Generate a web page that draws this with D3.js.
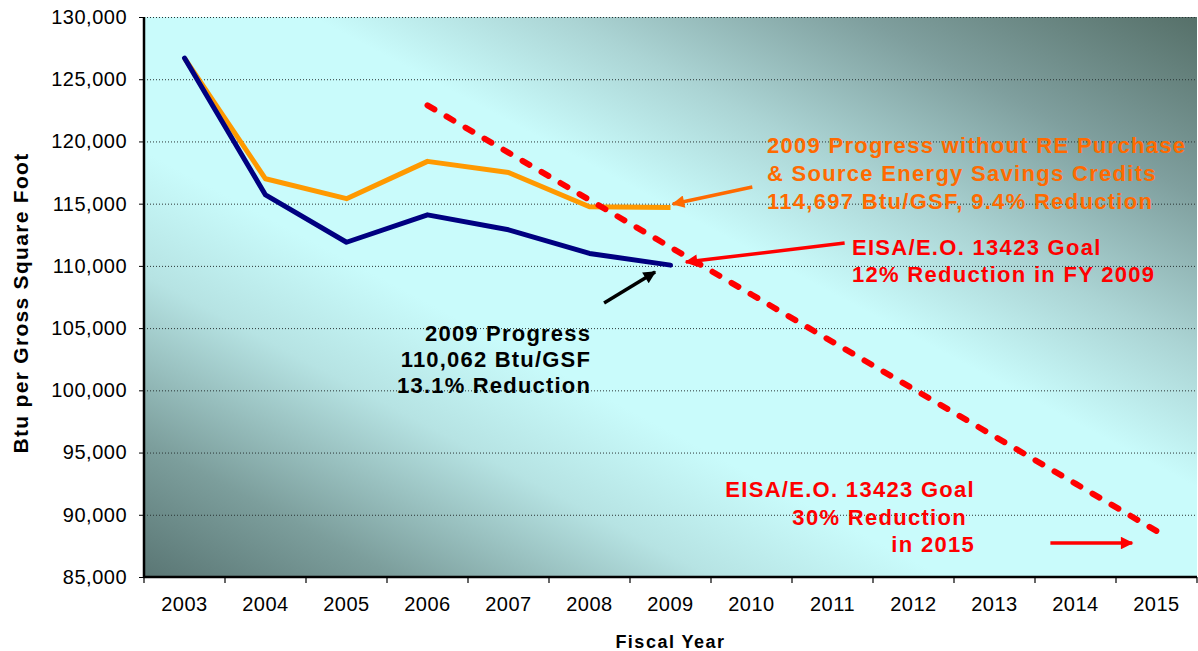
<!DOCTYPE html>
<html>
<head>
<meta charset="utf-8">
<script src="https://cdn.jsdelivr.net/npm/d3@7"></script>
<style>
  html, body { margin: 0; padding: 0; background: #ffffff; }
  svg { display: block; font-family: "Liberation Sans", Arial, sans-serif; }
</style>
</head>
<body>
<svg id="chart" width="1198" height="651"></svg>
<script>
// ---- data ----
const years = ["2003","2004","2005","2006","2007","2008","2009","2010","2011","2012","2013","2014","2015"];
const progressYears = ["2003","2004","2005","2006","2007","2008","2009"];
const progressValues = [126700, 115700, 111900, 114100, 112900, 111000, 110062];
const withoutREValues = [126700, 117000, 115400, 118400, 117500, 114750, 114697];
const goalYears = ["2006","2007","2008","2009","2010","2011","2012","2013","2014","2015"];
const goalValues = [122900, 119100, 115300, 111500, 107700, 103900, 100100, 96300, 92500, 88700];
const yTicks = [85000, 90000, 95000, 100000, 105000, 110000, 115000, 120000, 125000, 130000];
const yTitle = "Btu per Gross Square Foot";
const xTitle = "Fiscal Year";

// annotation texts (anchored in data coordinates)
const noteOrange = ["2009 Progress without RE Purchase", "& Source Energy Savings Credits", "114,697 Btu/GSF, 9.4% Reduction"];
const noteGoal2009 = ["EISA/E.O. 13423 Goal", "12% Reduction in FY 2009"];
const noteProgress = ["2009 Progress", "110,062 Btu/GSF", "13.1% Reduction"];
const noteGoal2015 = ["EISA/E.O. 13423 Goal", "30% Reduction", "in 2015"];

// ---- layout ----
const W = 1198, H = 651;
const margin = {top: 17, right: 1, bottom: 74, left: 144};
const width = W - margin.left - margin.right;
const height = H - margin.top - margin.bottom;

const svg = d3.select("#chart");
const g = svg.append("g").attr("transform", `translate(${margin.left},${margin.top})`);

const x = d3.scaleBand().domain(years).range([0, width]).padding(0);
const xc = d => x(d) + x.bandwidth() / 2;
// continuous year scale for annotation anchoring
const xl = d3.scaleLinear().domain([2002.5, 2015.5]).range([0, width]);
const y = d3.scaleLinear().domain([85000, 130000]).range([height, 0]);

// ---- background gradient ----
const defs = svg.append("defs");
const grad = defs.append("linearGradient").attr("id", "bg")
  .attr("x1", 0).attr("y1", 1).attr("x2", 1).attr("y2", 0);
[[0, "#5a7674"], [0.12, "#7c9e9c"], [0.27, "#b6e3e3"], [0.38, "#c9fbfb"],
 [0.58, "#c9fbfb"], [0.7, "#abd4d4"], [0.84, "#7f9f9e"], [1, "#567069"]]
  .forEach(([o, c]) => grad.append("stop").attr("offset", o).attr("stop-color", c));

const arrowColors = {aOrange: "#ff6a00", aRed: "#ff0000", aBlack: "#000000"};
Object.entries(arrowColors).forEach(([id, c]) => {
  defs.append("marker").attr("id", id)
    .attr("viewBox", "0 0 10 10").attr("refX", 9).attr("refY", 5)
    .attr("markerWidth", 4.2).attr("markerHeight", 3.6)
    .attr("markerUnits", "strokeWidth")
    .attr("orient", "auto")
    .append("path").attr("d", "M0,0 L10,5 L0,10 Z").attr("fill", c);
});

g.append("rect").attr("x", 0).attr("y", 0).attr("width", width).attr("height", height)
  .attr("fill", "url(#bg)");

// ---- gridlines ----
g.append("g").selectAll("line").data(yTicks.filter(v => v !== 85000)).join("line")
  .attr("x1", 0).attr("x2", width)
  .attr("y1", d => y(d) + 0.5).attr("y2", d => y(d) + 0.5)
  .attr("stroke", "#2a3535").attr("stroke-width", 1).attr("stroke-dasharray", "1,2");

// ---- axes ----
const yAxis = g.append("g")
  .call(d3.axisLeft(y).tickValues(yTicks).tickFormat(d3.format(",")).tickSize(5).tickPadding(12));
yAxis.select(".domain").remove();
yAxis.selectAll("line").attr("stroke", "#000");
yAxis.selectAll("text").attr("font-size", 20).attr("fill", "#000")
  .attr("letter-spacing", "0.5px").attr("font-family", "Liberation Sans, Arial, sans-serif");

const xAxis = g.append("g").attr("transform", `translate(0,${height})`)
  .call(d3.axisBottom(x).tickSize(0).tickPadding(20));
xAxis.select(".domain").remove();
xAxis.selectAll("text").attr("font-size", 20).attr("fill", "#000")
  .attr("letter-spacing", "0.5px").attr("font-family", "Liberation Sans, Arial, sans-serif");
// boundary ticks
const bounds = years.map(d => x(d)).concat([width]);
g.append("g").selectAll("line").data(bounds).join("line")
  .attr("x1", d => d).attr("x2", d => d)
  .attr("y1", height).attr("y2", height + 6)
  .attr("stroke", "#000").attr("stroke-width", 1.2);

// axis lines
g.append("line").attr("x1", 0).attr("x2", 0).attr("y1", 0).attr("y2", height)
  .attr("stroke", "#000").attr("stroke-width", 2.5);
g.append("line").attr("x1", -1).attr("x2", width).attr("y1", height).attr("y2", height)
  .attr("stroke", "#000").attr("stroke-width", 2.5);

// ---- series ----
const line = d3.line().x(d => xc(d[0])).y(d => y(d[1]));
g.append("path").datum(progressYears.map((d, i) => [d, withoutREValues[i]]))
  .attr("d", line).attr("fill", "none").attr("stroke", "#ff9900")
  .attr("stroke-width", 5).attr("stroke-linejoin", "round");
g.append("path").datum(progressYears.map((d, i) => [d, progressValues[i]]))
  .attr("d", line).attr("fill", "none").attr("stroke", "#000080")
  .attr("stroke-width", 5).attr("stroke-linejoin", "round").attr("stroke-linecap", "round");
g.append("path").datum(goalYears.map((d, i) => [d, goalValues[i]]))
  .attr("d", line).attr("fill", "none").attr("stroke", "#ff0000")
  .attr("stroke-width", 6).attr("stroke-linecap", "round")
  .attr("stroke-dasharray", "8,14");

// ---- annotations ----
function note(lines, yr, val, anchor, color, lh, ls) {
  const t = g.append("text").attr("font-size", 22).attr("font-weight", "bold")
    .attr("fill", color).attr("text-anchor", anchor).attr("letter-spacing", ls + "px");
  lines.forEach((s, i) => {
    t.append("tspan").attr("x", xl(yr)).attr("y", y(val) + i * lh)
      .attr("dominant-baseline", "central").text(s);
  });
}
note(noteOrange, 2010.19, 119700, "start", "#ff6a00", 28, 1.3);
note(noteGoal2009, 2011.24, 111500, "start", "#ff0000", 27, 1.3);
note(noteProgress, 2008.02, 104600, "end", "#000000", 26, 1.2);
note(noteGoal2015.slice(0, 1), 2012.76, 92070, "end", "#ff0000", 28, 1.3);
note(noteGoal2015.slice(1, 2), 2012.66, 92070 - 2250, "end", "#ff0000", 28, 1.3);
note(noteGoal2015.slice(2, 3), 2012.76, 92070 - 4420, "end", "#ff0000", 28, 1.3);

function arrow(x1, v1, x2, v2, id, color, w) {
  g.append("line").attr("x1", xl(x1)).attr("y1", y(v1)).attr("x2", xl(x2)).attr("y2", y(v2))
    .attr("stroke", color).attr("stroke-width", w).attr("marker-end", `url(#${id})`);
}
arrow(2010.01, 116340, 2009.03, 114970, "aOrange", "#ff6a00", 3.5);
arrow(2011.15, 111840, 2009.19, 110310, "aRed", "#ff0000", 3.5);
arrow(2008.18, 107020, 2008.81, 109510, "aBlack", "#000000", 3.5);
arrow(2013.69, 87730, 2014.70, 87730, "aRed", "#ff0000", 3.5);

// ---- titles ----
svg.append("text").attr("transform", `translate(20,${margin.top + height / 2 + 6}) rotate(-90)`)
  .attr("text-anchor", "middle").attr("dominant-baseline", "central")
  .attr("font-size", 21).attr("font-weight", "bold").attr("letter-spacing", "1.3px")
  .text(yTitle);
svg.append("text").attr("x", margin.left + width / 2).attr("y", 642)
  .attr("text-anchor", "middle").attr("dominant-baseline", "central")
  .attr("font-size", 18).attr("font-weight", "bold").attr("letter-spacing", "1.5px")
  .text(xTitle);
</script>
</body>
</html>
